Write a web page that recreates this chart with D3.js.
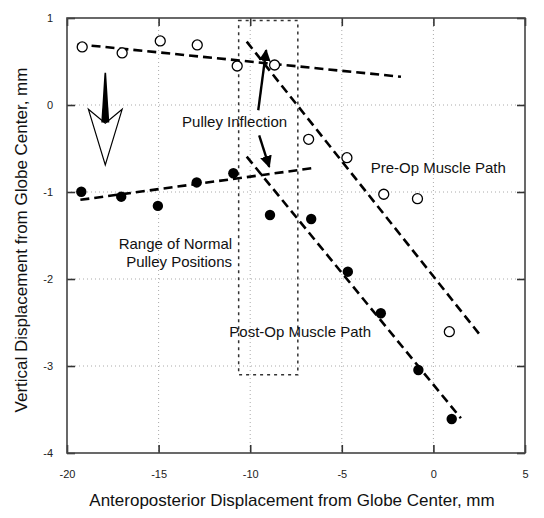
<!DOCTYPE html>
<html><head><meta charset="utf-8">
<script src="https://cdn.jsdelivr.net/npm/d3@7"></script>
<style>body{margin:0;background:#fff}svg{display:block;font-family:"Liberation Sans",Arial,Helvetica,sans-serif}</style>
</head><body><svg id="c" width="544" height="518"></svg>
<script>
// Data
const xTicks = [-20, -15, -10, -5, 0, 5];
const yTicks = [1, 0, -1, -2, -3, -4];
const preOpX = [-19.17, -16.99, -14.91, -12.89, -10.71, -8.67, -6.81, -4.72, -2.71, -0.87, 0.87];
const preOpY = [0.667, 0.598, 0.736, 0.69, 0.448, 0.46, -0.394, -0.606, -1.026, -1.077, -2.606];
const postOpX = [-19.22, -17.04, -15.04, -12.92, -10.92, -8.92, -6.67, -4.67, -2.87, -0.82, 1.0];
const postOpY = [-0.997, -1.054, -1.16, -0.89, -0.785, -1.264, -1.31, -1.916, -2.394, -3.046, -3.609];
// fitted dashed lines: [x1, y1, x2, y2]
const preOpFlat = [-19.42, 0.698, -1.77, 0.325];
const postOpFlat = [-19.27, -1.09, -6.4, -0.72];
const preOpSteep = [-10.19, 0.728, 2.59, -2.655];
const postOpSteep = [-10.19, -0.594, 1.5, -3.60];
// range of normal pulley positions box [x1, x2, yTop, yBottom]
const pulleyRange = [-10.63, -7.4, 0.97, -3.1];

const W = 544, H = 518;
const m = {l: 67, r: 19, t: 18, b: 65};
const x = d3.scaleLinear().domain([-20, 5]).range([m.l, W - m.r]);
const y = d3.scaleLinear().domain([-4, 1]).range([H - m.b, m.t]);
const svg = d3.select("#c");
const fmt = d => String(d);

// grid
const g = svg.append("g");
g.selectAll(".gx").data([-15, -10, -5, 0]).join("line")
  .attr("x1", d => x(d)).attr("x2", d => x(d)).attr("y1", y(1)).attr("y2", y(-4))
  .attr("stroke", "#aaa").attr("stroke-width", 1).attr("stroke-dasharray", "1,3");
g.selectAll(".gy").data([0, -1, -2, -3]).join("line")
  .attr("y1", d => y(d)).attr("y2", d => y(d)).attr("x1", x(-20)).attr("x2", x(5))
  .attr("stroke", "#aaa").attr("stroke-width", 1).attr("stroke-dasharray", "1,3");

// axes with inward ticks
const tk = 8;
svg.append("g").attr("transform", `translate(0,${y(-4)})`)
  .call(d3.axisBottom(x).tickValues(xTicks).tickSizeInner(-tk).tickSizeOuter(0).tickPadding(17).tickFormat(fmt));
svg.append("g").attr("transform", `translate(0,${y(1)})`)
  .call(d3.axisTop(x).tickValues(xTicks).tickSizeInner(-tk).tickSizeOuter(0).tickFormat(""));
svg.append("g").attr("transform", `translate(${x(-20)},0)`)
  .call(d3.axisLeft(y).tickValues(yTicks).tickSizeInner(-tk).tickSizeOuter(0).tickPadding(14).tickFormat(fmt));
svg.append("g").attr("transform", `translate(${x(5)},0)`)
  .call(d3.axisRight(y).tickValues(yTicks).tickSizeInner(-tk).tickSizeOuter(0).tickFormat(""));
svg.selectAll(".domain").remove();
svg.selectAll(".tick line").attr("stroke", "#333").attr("stroke-width", 1.6);
svg.selectAll(".tick text").attr("font-size", 11).attr("fill", "#222").attr("font-family", "Liberation Sans, Arial, sans-serif");
svg.append("rect").attr("x", x(-20)).attr("y", y(1)).attr("width", x(5) - x(-20)).attr("height", y(-4) - y(1))
  .attr("fill", "none").attr("stroke", "#444").attr("stroke-width", 1.6);

// dashed box
svg.append("rect").attr("x", x(pulleyRange[0])).attr("y", y(pulleyRange[2]))
  .attr("width", x(pulleyRange[1]) - x(pulleyRange[0])).attr("height", y(pulleyRange[3]) - y(pulleyRange[2]))
  .attr("fill", "none").attr("stroke", "#333").attr("stroke-width", 1.5).attr("stroke-dasharray", "3,4");

// fitted lines
[preOpFlat, postOpFlat, preOpSteep, postOpSteep].forEach(l => {
  svg.append("line").attr("x1", x(l[0])).attr("y1", y(l[1])).attr("x2", x(l[2])).attr("y2", y(l[3]))
    .attr("stroke", "#000").attr("stroke-width", 2.6).attr("stroke-dasharray", "9,5");
});

// points
svg.selectAll(".pre").data(preOpX.map((d, i) => [d, preOpY[i]])).join("circle")
  .attr("cx", d => x(d[0])).attr("cy", d => y(d[1])).attr("r", 5)
  .attr("fill", "#fff").attr("stroke", "#000").attr("stroke-width", 1.3);
svg.selectAll(".post").data(postOpX.map((d, i) => [d, postOpY[i]])).join("circle")
  .attr("cx", d => x(d[0])).attr("cy", d => y(d[1])).attr("r", 5.2)
  .attr("fill", "#000");

// big direction arrow (data coords)
const ax = -17.91;
svg.append("path").attr("d", d3.line()([
  [x(ax) - 0.8, y(0.37)], [x(ax) + 0.8, y(0.37)], [x(ax) + 4, y(-0.2)], [x(ax) - 4, y(-0.2)]
])).attr("fill", "#000");
svg.append("path").attr("d", d3.line()([
  [x(ax - 0.92), y(-0.05)], [x(ax), y(-0.69)], [x(ax + 0.92), y(-0.05)], [x(ax), y(-0.21)]
]) + "Z").attr("fill", "none").attr("stroke", "#000").attr("stroke-width", 1.2).attr("stroke-linejoin", "miter");

// pulley inflection arrows
svg.append("defs").append("marker").attr("id", "ah").attr("viewBox", "0 0 10 10")
  .attr("refX", 9).attr("refY", 5).attr("markerWidth", 5).attr("markerHeight", 5).attr("markerUnits", "strokeWidth")
  .attr("orient", "auto").append("path").attr("d", "M0,0 L10,5 L0,10 Z").attr("fill", "#000");
const arrows = [[-9.56, -0.06, -9.13, 0.63], [-9.51, -0.35, -8.96, -0.71]];
arrows.forEach(a => {
  svg.append("line").attr("x1", x(a[0])).attr("y1", y(a[1])).attr("x2", x(a[2])).attr("y2", y(a[3]))
    .attr("stroke", "#000").attr("stroke-width", 2.4).attr("marker-end", "url(#ah)");
});

// annotations
const ann = svg.append("g").attr("font-size", 15).attr("fill", "#111");
ann.append("text").attr("x", x(-13.72)).attr("y", y(-0.253)).text("Pulley Inflection");
ann.append("text").attr("x", x(-3.42)).attr("y", y(-0.778)).text("Pre-Op Muscle Path");
ann.append("text").attr("x", x(-10.99)).attr("y", y(-1.66)).attr("text-anchor", "end").text("Range of Normal");
ann.append("text").attr("x", x(-10.99)).attr("y", y(-1.86)).attr("text-anchor", "end").text("Pulley Positions");
ann.append("text").attr("x", x(-11.14)).attr("y", y(-2.663)).text("Post-Op Muscle Path");

// axis titles
svg.append("text").attr("x", 292).attr("y", 506).attr("text-anchor", "middle")
  .attr("font-size", 17).attr("fill", "#111").text("Anteroposterior Displacement from Globe Center, mm");
svg.append("text").attr("transform", `translate(27,240) rotate(-90)`).attr("text-anchor", "middle")
  .attr("font-size", 17).attr("fill", "#111").text("Vertical Displacement from Globe Center, mm");
</script></body></html>
